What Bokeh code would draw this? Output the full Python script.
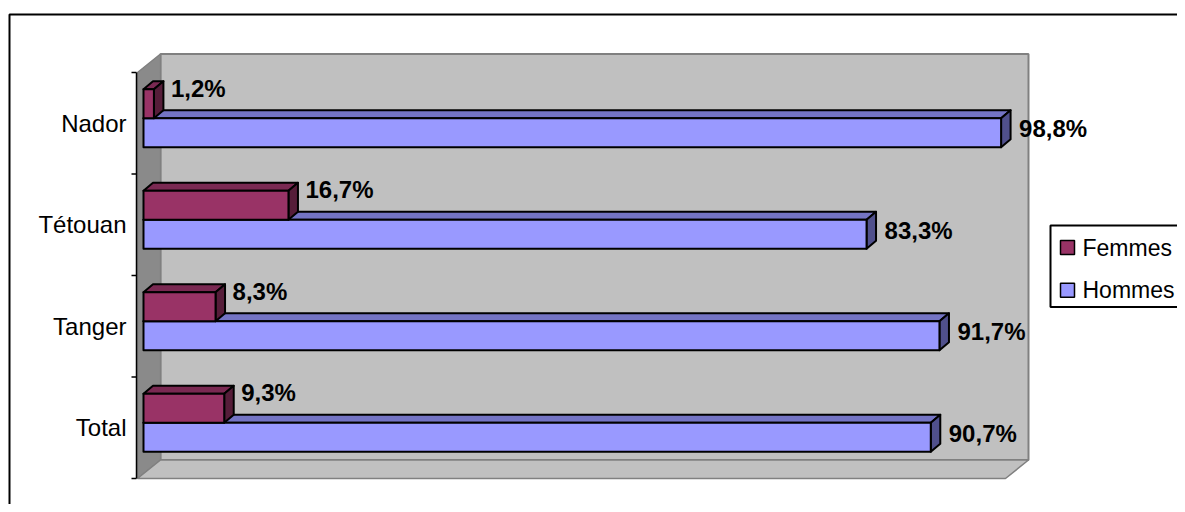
from bokeh.plotting import figure
from bokeh.models import Range1d
from bokeh.core.properties import value
from bokeh.embed import file_html
from bokeh.resources import INLINE

# ---- data ----
categories = ["Total", "Tanger", "Tétouan", "Nador"]   # bottom to top
femmes = [9.3, 8.3, 16.7, 1.2]
hommes = [90.7, 91.7, 83.3, 98.8]
series_names = ["Femmes", "Hommes"]
x_max = 100

# ---- layout constants (pixels) ----
W, H = 1177, 504
K = 8.68          # px per percent
S = 101.5         # px per category band
X0, Y0 = 137, 478 # position of value 0 / category floor (front plane)
FONT = value("Liberation Sans")

def dx(px):
    return px / K

def dy(py):
    return py / S

def PX(px):  # screen x -> data x
    return (px - X0) / K

def PY(py):  # screen y -> data y
    return (Y0 - py) / S

n = len(categories)
WALL_DX, WALL_DY = dx(23), dy(18.5)
BAR_OX, BAR_OY = dx(6), dy(5)
BAR_DX, BAR_DY = dx(9.5), dy(8)
BAR_H = dy(29)

p = figure(width=W, height=H, output_backend="svg", toolbar_location=None,
           x_range=Range1d(PX(0), PX(W)), y_range=Range1d(PY(H), PY(0)),
           x_axis_type=None, y_axis_type=None, min_border=0)
p.outline_line_color = None
p.background_fill_color = "white"
p.border_fill_color = "white"

# outer chart frame
p.quad(left=[PX(9)], right=[PX(1400)], top=[PY(14)], bottom=[PY(700)],
       fill_color=None, line_color="black", line_width=2)

# walls
p.quad(left=[WALL_DX], right=[x_max + WALL_DX], bottom=[WALL_DY], top=[n + WALL_DY],
       fill_color="#C0C0C0", line_color="#808080", line_width=2)
p.patch([0, 0, WALL_DX, WALL_DX], [0, n, n + WALL_DY, WALL_DY],
        fill_color="#8A8A8A", line_color="#808080", line_width=1.5)
p.patch([0, x_max, x_max + WALL_DX, WALL_DX], [0, 0, WALL_DY, WALL_DY],
        fill_color="#C0C0C0", line_color="#808080", line_width=1.5)

# axis line and ticks
p.segment(x0=[PX(136)], y0=[0], x1=[PX(136)], y1=[n], line_color="black", line_width=1.5)
p.segment(x0=[PX(131)] * (n + 1), y0=list(range(n + 1)),
          x1=[PX(136)] * (n + 1), y1=list(range(n + 1)), line_color="black", line_width=1.5)

# category labels
p.text(x=[PX(126)] * n, y=[i + 0.5 for i in range(n)], text=categories,
       text_align="right", text_baseline="middle", text_font=FONT,
       text_font_size="24px", text_color="black")


def draw_series(vals, upper, front, top, side):
    lefts, rights, bottoms, tops = [], [], [], []
    txs, tys, sxs, sys_ = [], [], [], []
    for i, v in enumerate(vals):
        c = i + 0.5 + BAR_OY
        b, t = (c, c + BAR_H) if upper else (c - BAR_H, c)
        L, R = BAR_OX, BAR_OX + v
        lefts.append(L); rights.append(R); bottoms.append(b); tops.append(t)
        txs.append([L, L + BAR_DX, R + BAR_DX, R])
        tys.append([t, t + BAR_DY, t + BAR_DY, t])
        sxs.append([R, R + BAR_DX, R + BAR_DX, R])
        sys_.append([b, b + BAR_DY, t + BAR_DY, t])
    p.patches(txs, tys, fill_color=top, line_color="black", line_width=2, line_join="round")
    p.patches(sxs, sys_, fill_color=side, line_color="black", line_width=2, line_join="round")
    p.quad(left=lefts, right=rights, bottom=bottoms, top=tops,
           fill_color=front, line_color="black", line_width=2, line_join="round")


draw_series(hommes, False, "#9999FF", "#7474C4", "#50508C")
draw_series(femmes, True, "#993366", "#7A2952", "#561D39")

def fmt(v):
    return f"{v:.1f}".replace(".", ",") + "%"

# data labels
p.text(x=[BAR_OX + v + dx(18) for v in hommes],
       y=[i + 0.5 + BAR_OY - dy(10.5) for i in range(n)],
       text=[fmt(v) for v in hommes], text_align="left", text_baseline="middle",
       text_font=FONT, text_font_size="24px", text_font_style="bold", text_color="black")
p.text(x=[BAR_OX + v + dx(17) for v in femmes],
       y=[i + 0.5 + BAR_OY + dy(30) for i in range(n)],
       text=[fmt(v) for v in femmes], text_align="left", text_baseline="middle",
       text_font=FONT, text_font_size="24px", text_font_style="bold", text_color="black")

# legend (manual, box runs past the right edge as in the original)
p.quad(left=[PX(1050)], right=[PX(1300)], top=[PY(225)], bottom=[PY(306.5)],
       fill_color="white", line_color="black", line_width=2)
leg_colors = ["#993366", "#9999FF"]
leg_y = [247, 289.7]
p.quad(left=[PX(1060)] * 2, right=[PX(1074)] * 2,
       top=[PY(y - 7) for y in leg_y], bottom=[PY(y + 7) for y in leg_y],
       fill_color=leg_colors, line_color="black", line_width=1.5)
p.text(x=[PX(1082)] * 2, y=[PY(y) for y in leg_y], text=series_names,
       text_align="left", text_baseline="middle", text_font=FONT,
       text_font_size="23px", text_color="black")

open("out.html", "w").write(file_html(p, INLINE))
